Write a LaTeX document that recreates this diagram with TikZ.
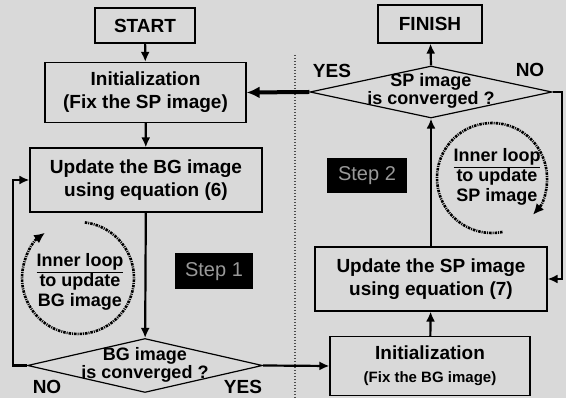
\documentclass[tikz,border=0pt]{standalone}
\usepackage{fontspec}
\setmainfont{Liberation Sans}
\usetikzlibrary{arrows.meta,shapes.geometric,positioning}

\begin{document}
\begin{tikzpicture}[x=1pt,y=1pt,
	box/.style={rectangle,draw,line width=1.2pt,font=\bfseries\fontsize{19}{23}\selectfont,align=center,inner sep=0pt},
	decision/.style={diamond,draw,line width=1.2pt,inner sep=0pt},
	question/.style={font=\bfseries\fontsize{18}{14.5}\selectfont,align=center,inner sep=0pt},
	flow/.style={line width=2.2pt,-{Latex[length=10pt,width=9pt]}},
	answer/.style={font=\bfseries\fontsize{19}{23}\selectfont,inner sep=0pt},
	steplabel/.style={fill=black,text=black!40,font=\fontsize{20}{24}\selectfont,minimum width=78pt,minimum height=36pt,inner sep=0pt},
	loopnote/.style={font=\bfseries\fontsize{18}{20}\selectfont,align=center,inner sep=0pt},
	innerloop/.style={line width=2.6pt,dash pattern=on 2.5pt off 1pt on 1pt off 1pt,-{Latex[length=11pt,width=10pt]}}]
	\fill[black!15] (0,0) rectangle (566,398);
	\useasboundingbox (0,0) rectangle (566,398);

	% step 1 column
	\node[box,minimum width=100pt,minimum height=35pt] (start) at (145,372.5) {START};
	\node[box,minimum width=201pt,minimum height=60pt] (initsp) at (145.5,305.5) {Initialization\\(Fix the SP image)};
	\node[box,minimum width=232pt,minimum height=64pt] (updbg) at (146,218) {Update the BG image\\using equation (6)};
	\node[decision,minimum width=235pt,minimum height=54pt] (bgq) at (145,32.5) {};
	\node[question] (bgqtext) at (145,33.5) {BG image\\is converged ?};
	\node[steplabel] (step1) at (214,126.5) {Step 1};

	% step 2 column
	\node[box,minimum width=200pt,minimum height=59pt] (initbg) at (430,32) {Initialization\\{\fontsize{15}{18}\selectfont(Fix the BG image)}};
	\node[box,minimum width=232pt,minimum height=64pt] (updsp) at (431,119) {Update the SP image\\using equation (7)};
	\node[decision,minimum width=242pt,minimum height=52pt] (spq) at (431,306) {};
	\node[question] (spqtext) at (431,307) {SP image\\is converged ?};
	\node[box,minimum width=104pt,minimum height=38pt] (finish) at (430,374) {FINISH};
	\node[steplabel,minimum width=80pt,minimum height=35pt] (step2) at (367,222.5) {Step 2};

	% answers
	\node[answer] (yes1) at (243,11) {YES};
	\node[answer] (no1) at (47,11) {NO};
	\node[answer] (yes2) at (332,327) {YES};
	\node[answer] (no2) at (530,328) {NO};

	% divider
	\draw[black!70,line width=1.6pt,dash pattern=on 1pt off 2pt] (295,343) -- (295,0);

	% flow
	\draw[flow] (start) -- (initsp);
	\draw[flow] (initsp) -- (updbg);
	\draw[flow] (updbg) -- (bgq);
	\draw[flow] (bgq.west) -- ++(-14,0) |- (updbg.west);
	\draw[flow] (bgq.east) -- (initbg.west);
	\draw[flow] (initbg) -- (updsp);
	\draw[flow] (updsp) -- (spq.south);
	\draw[flow] (spq.north) -- (finish);
	\draw[flow,line width=4pt,-{Latex[length=13pt,width=12pt]}] (spq.west) -- (initsp.east);
	\draw[flow] (spq.east) -- ++(9,0) |- (updsp.east);

	% inner loops
	\draw[innerloop] (78,120) ++(83:56) arc[start angle=83,end angle=-234,radius=56];
	\node[loopnote] (loopbg) at (80,116) {\underline{Inner loop}\\to update\\BG image};
	\draw[innerloop] (492,220) ++(281:55) arc[start angle=281,end angle=-42,radius=55];
	\node[loopnote] (loopsp) at (497,221) {\underline{Inner loop}\\to update\\SP image};
\end{tikzpicture}
\end{document}
